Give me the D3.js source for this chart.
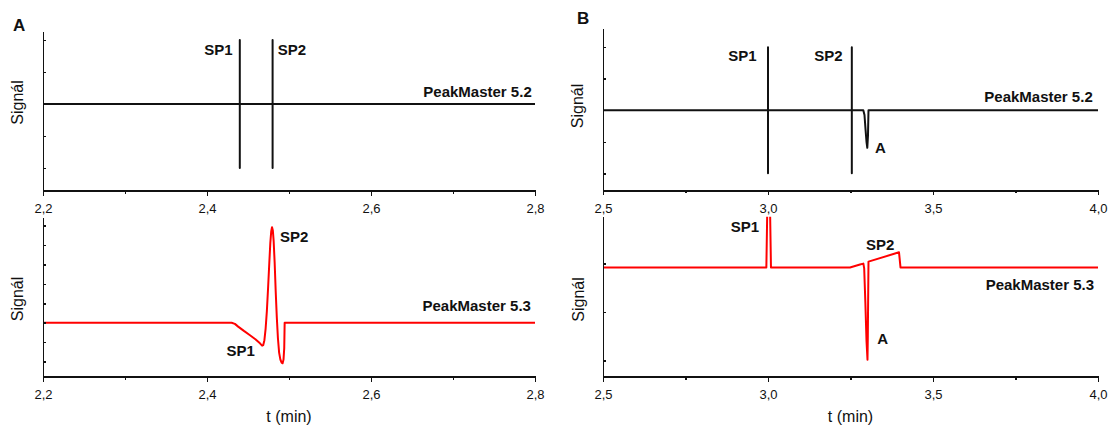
<!DOCTYPE html>
<html>
<head>
<meta charset="utf-8">
<script src="https://cdn.jsdelivr.net/npm/d3@7"></script>
<style>
  html, body { margin: 0; padding: 0; background: #fff; }
  svg { display: block; font-family: "Liberation Sans", Arial, Helvetica, sans-serif; }
  .axis path, .axis line { stroke: #111; stroke-width: 1.5; shape-rendering: crispEdges; }
  .axis text { font-size: 13px; fill: #111; font-family: "Liberation Sans", Arial, sans-serif; }
  .lbl { font-weight: bold; font-size: 15px; fill: #111; }
  .ttl { font-size: 16px; fill: #111; }
  .panel-letter { font-weight: bold; font-size: 17px; fill: #111; }
</style>
</head>
<body>
<svg id="chart" width="1111" height="429"></svg>
<script>
// ---- Tick values ----
const timeTicksA = [2.2, 2.4, 2.6, 2.8];
const timeMinorA = [2.3, 2.5, 2.7];
const timeTicksB = [2.5, 3.0, 3.5, 4.0];
const timeMinorB = [2.75, 3.25, 3.75];

// ---- Panel A, PeakMaster 5.2: flat baseline with system peaks SP1 and SP2 ----
const tA52 = [2.2, 2.44, 2.44, 2.44, 2.44, 2.48, 2.48, 2.48, 2.48, 2.8];
const sA52 = [0,   0,    2,   -2,    0,    0,    2,   -2,    0,   0];

// ---- Panel A, PeakMaster 5.3 ----
const tA53 = [2.2, 2.430, 2.434, 2.438, 2.445, 2.452, 2.459, 2.4646, 2.4672, 2.4686,
              2.4700, 2.4715, 2.4730, 2.4745, 2.4760, 2.4772, 2.4783, 2.4793, 2.4803,
              2.4813, 2.4825, 2.4838, 2.4851, 2.4865, 2.4880, 2.4895, 2.4910, 2.4922,
              2.4933, 2.4942, 2.4947, 2.8];
const sA53 = [0, 0, -0.06, -0.2, -0.42, -0.63, -0.85, -1.06, -1.18, -1.15,
              -0.9, -0.3, 0.6, 1.8, 3.1, 4.1, 4.7, 4.92, 4.75,
              4.2, 3.1, 1.6, 0.3, -0.8, -1.55, -1.9, -2.06, -2.09,
              -1.9, -1.3, 0, 0];

// ---- Panel B, PeakMaster 5.2: SP1, SP2 and analyte peak A ----
const tB52 = [2.5, 3.0, 3.0, 3.0, 3.0, 3.254, 3.254, 3.254, 3.254,
              3.2888, 3.2924, 3.2955, 3.2985, 3.3009, 3.3030, 3.3045, 4.0];
const sB52 = [0, 0, 2, -2, 0, 0, 2, -2, 0,
              0, -0.15, -0.6, -1.0, -1.19, -0.8, 0, 0];

// ---- Panel B, PeakMaster 5.3 ----
const tB53 = [2.5, 2.995, 2.998, 3.0, 3.002, 3.004, 3.006, 3.009,
              3.2485, 3.2636, 3.2788, 3.289, 3.2915, 3.295, 3.2985, 3.3015, 3.3025, 3.3045,
              3.397, 3.4015, 4.0];
const sB53 = [-0.08, -0.08, 1.2, 2.5, 3.0, 2.5, 1.2, -0.08,
              -0.08, -0.05, -0.02, 0.0, -0.1, -0.8, -1.6, -1.99, -1.5, 0.04,
              0.233, -0.08, -0.08];

// ---- Annotation texts ----
const peakNames = ["SP1", "SP2", "A"];
const versionNames = ["PeakMaster 5.2", "PeakMaster 5.3"];
const axisTitles = ["Signál", "t (min)"];
const panelNames = ["A", "B"];

const svg = d3.select("#chart");
const fmt = d => d3.format(".1f")(d).replace(".", ",");

// Panel geometry (pixel boxes) and signal domains
const panels = [
  { id: "a1", x0: 43,  x1: 535,  yTop: 31.7,  yBot: 190.7, xDom: [2.2, 2.8], yDom: [-2.71, 2.26],
    yTicks: [-2, -1, 0, 1, 2], ticks: timeTicksA, minor: timeMinorA, t: tA52, s: sA52, color: "#111",
    titleY: 102.5, titleX: 23, xTitle: false },
  { id: "a2", x0: 43,  x1: 535,  yTop: 217.7, yBot: 376.7, xDom: [2.2, 2.8], yDom: [-2.78, 5.41],
    yTicks: [-2, -1, 0, 1, 2, 3, 4, 5], ticks: timeTicksA, minor: timeMinorA, t: tA53, s: sA53, color: "#ff0000",
    titleY: 299, titleX: 23, xTitle: true },
  { id: "b1", x0: 603, x1: 1098, yTop: 28.3,  yBot: 190.3, xDom: [2.5, 4.0], yDom: [-2.54, 2.6],
    yTicks: [-2, -1, 0, 1, 2], ticks: timeTicksB, minor: timeMinorB, t: tB52, s: sB52, color: "#111",
    titleY: 106, titleX: 583, xTitle: false },
  { id: "b2", x0: 603, x1: 1098, yTop: 216.7, yBot: 376.7, xDom: [2.5, 4.0], yDom: [-2.34, 0.97],
    yTicks: [-2, -1, 0], ticks: timeTicksB, minor: timeMinorB, t: tB53, s: sB53, color: "#ff0000",
    titleY: 299.5, titleX: 584, xTitle: true }
];

panels.forEach(p => {
  p.x = d3.scaleLinear().domain(p.xDom).range([p.x0, p.x1]);
  p.y = d3.scaleLinear().domain(p.yDom).range([p.yBot, p.yTop]);

  svg.append("clipPath").attr("id", "clip-" + p.id)
    .append("rect").attr("x", p.x0).attr("y", p.yTop)
    .attr("width", p.x1 - p.x0 + 1).attr("height", p.yBot - p.yTop);

  // trace
  const pts = p.t.map((t, i) => [t, p.s[i]]);
  svg.append("path")
    .datum(pts)
    .attr("clip-path", `url(#clip-${p.id})`)
    .attr("fill", "none")
    .attr("stroke", p.color)
    .attr("stroke-width", 2)
    .attr("stroke-linejoin", "round")
    .attr("d", d3.line().x(d => p.x(d[0])).y(d => p.y(d[1])));

  // x axis (major with labels, then minor)
  svg.append("g").attr("class", "axis")
    .attr("transform", `translate(0,${p.yBot})`)
    .call(d3.axisBottom(p.x).tickValues(p.ticks).tickSizeInner(5).tickSizeOuter(0)
      .tickPadding(8).tickFormat(fmt));
  const gm = svg.append("g").attr("class", "axis")
    .attr("transform", `translate(0,${p.yBot})`)
    .call(d3.axisBottom(p.x).tickValues(p.minor).tickSizeInner(3).tickSizeOuter(0).tickFormat(""));
  gm.select(".domain").remove();

  // y axis: unlabelled, ticks pointing inward
  svg.append("g").attr("class", "axis")
    .attr("transform", `translate(${p.x0},0)`)
    .call(d3.axisLeft(p.y).tickValues(p.yTicks).tickSizeInner(-3).tickSizeOuter(0).tickFormat(""));

  // axis titles
  svg.append("text").attr("class", "ttl")
    .attr("transform", `translate(${p.titleX},${p.titleY}) rotate(-90)`)
    .attr("text-anchor", "middle")
    .text(axisTitles[0]);
  if (p.xTitle) {
    svg.append("text").attr("class", "ttl")
      .attr("x", (p.x0 + p.x1) / 2).attr("y", 421.5)
      .attr("text-anchor", "middle")
      .text(axisTitles[1]);
  }
});

// Peak and version labels, placed in data coordinates of their panel
const [a1, a2, b1, b2] = panels;
const notes = [
  [a1, peakNames[0], 2.4313, 1.53, "end"],
  [a1, peakNames[1], 2.4862, 1.53, "start"],
  [a1, versionNames[0], 2.796, 0.23, "end"],
  [a2, peakNames[1], 2.489, 4.16, "start"],
  [a2, peakNames[0], 2.4585, -1.72, "end"],
  [a2, versionNames[1], 2.795, 0.6, "end"],
  [b1, peakNames[0], 2.9658, 1.565, "end"],
  [b1, peakNames[1], 3.2264, 1.565, "end"],
  [b1, versionNames[0], 3.984, 0.25, "end"],
  [b1, peakNames[2], 3.324, -1.36, "start"],
  [b2, peakNames[0], 2.9727, 0.66, "end"],
  [b2, peakNames[1], 3.297, 0.28, "start"],
  [b2, versionNames[1], 3.988, -0.556, "end"],
  [b2, peakNames[2], 3.331, -1.66, "start"]
];
notes.forEach(([p, txt, t, s, anchor]) => {
  svg.append("text").attr("class", "lbl")
    .attr("x", p.x(t)).attr("y", p.y(s))
    .attr("text-anchor", anchor)
    .text(txt);
});

// Panel letters
svg.append("text").attr("class", "panel-letter").attr("x", 13).attr("y", 30.5).text(panelNames[0]);
svg.append("text").attr("class", "panel-letter").attr("x", 577).attr("y", 23.5).text(panelNames[1]);
</script>
</body>
</html>
